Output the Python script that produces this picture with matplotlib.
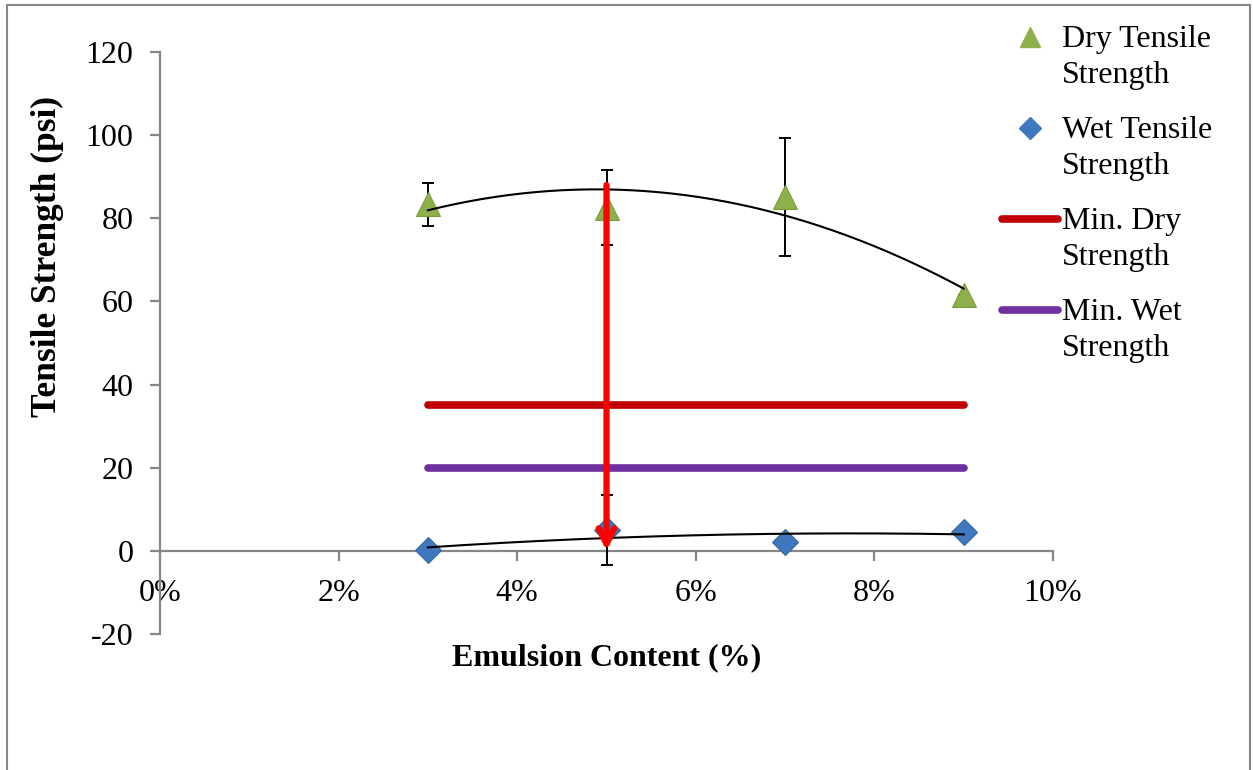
import numpy as np
import matplotlib
matplotlib.use("Agg")
import matplotlib.pyplot as plt
from matplotlib.lines import Line2D
from matplotlib.patches import Rectangle

# data (emulsion content in %)
emulsion = [3, 5, 7, 9]
dry_strength = [83.4, 82.5, 85.1, 61.6]
dry_err = [5.2, 9.0, 14.2, 0.0]
wet_strength = [0.2, 5.0, 2.2, 4.6]
wet_err = [0.0, 8.4, 0.0, 0.0]

min_dry = 35
min_wet = 20
min_span = [3, 9]

arrow_x = 5
arrow_from = 88
arrow_to = 0

x_ticks = [0, 2, 4, 6, 8, 10]
x_labels = ["0%", "2%", "4%", "6%", "8%", "10%"]
y_ticks = [-20, 0, 20, 40, 60, 80, 100, 120]

legend_labels = ['Dry Tensile\nStrength', 'Wet Tensile\nStrength',
                 'Min. Dry\nStrength', 'Min. Wet\nStrength']

plt.rcParams['font.family'] = ['Liberation Serif', 'DejaVu Serif']
plt.rcParams['axes.unicode_minus'] = False
FS = 23
GRAY = '#868686'
W, H = 1253, 770

fig = plt.figure(figsize=(W / 100, H / 100), dpi=100)
ax = fig.add_axes([160 / W, 1 - 634 / H, 893 / W, 582 / H])

# outer chart frame
fig.patches.append(Rectangle((7 / W, -0.1), 1243 / W, 1.1 - 5 / H,
                             transform=fig.transFigure, fill=False,
                             edgecolor=GRAY, lw=1.5))

# minimum strength lines
ax.plot(min_span, [min_dry, min_dry], color='#C00000', lw=5.5,
        solid_capstyle='round', zorder=2)
ax.plot(min_span, [min_wet, min_wet], color='#7030A0', lw=5.5,
        solid_capstyle='round', zorder=2)

# error bars behind the markers
ax.errorbar(emulsion, dry_strength, yerr=dry_err, fmt='none', ecolor='black',
            elinewidth=1.4, capsize=4.5, capthick=1.4, zorder=3)
ax.errorbar(emulsion, wet_strength, yerr=wet_err, fmt='none', ecolor='black',
            elinewidth=1.4, capsize=4.5, capthick=1.4, zorder=3)

ax.plot(emulsion, dry_strength, linestyle='none', marker='^', markersize=17,
        color='#8DB04A', markeredgecolor='#7A9D3C', markeredgewidth=0.8, zorder=4)
ax.plot(emulsion, wet_strength, linestyle='none', marker='D', markersize=13,
        color='#3F78BF', markeredgecolor='#36699F', markeredgewidth=0.8, zorder=4)

# 2nd order polynomial trendlines
xx = np.linspace(min(emulsion), max(emulsion), 200)
dry_fit = np.polyfit(emulsion, dry_strength, 2)
wet_fit = np.polyfit(emulsion, wet_strength, 2)
ax.plot(xx, np.polyval(dry_fit, xx), color='black', lw=1.5, zorder=5)
ax.plot(xx, np.polyval(wet_fit, xx), color='black', lw=1.5, zorder=5)

# red arrow at the chosen emulsion content
ax.annotate('', xy=(arrow_x, arrow_to), xytext=(arrow_x, arrow_from),
            arrowprops=dict(arrowstyle='->', color='#FF0000', lw=4.5,
                            mutation_scale=28, shrinkA=0, shrinkB=0),
            zorder=6)

ax.set_xlim(0, 10)
ax.set_ylim(-20, 120)
ax.set_xticks(x_ticks)
ax.set_xticklabels(x_labels)
ax.set_yticks(y_ticks)

for s in ['top', 'right']:
    ax.spines[s].set_visible(False)
ax.spines['bottom'].set_position(('data', 0))
for s in ['left', 'bottom']:
    ax.spines[s].set_color(GRAY)
    ax.spines[s].set_linewidth(1.6)
ax.tick_params(axis='both', direction='out', length=7, width=1.6,
               color=GRAY, labelsize=FS)
ax.tick_params(axis='x', pad=13)
ax.tick_params(axis='y', pad=12)

ax.set_xlabel('Emulsion Content (%)', fontsize=FS, fontweight='bold')
ax.xaxis.set_label_coords(0.5, -0.041)
ax.xaxis.label.set_verticalalignment('center')
ax.set_ylabel('Tensile Strength (psi)', fontsize=25.5, fontweight='bold')
ax.yaxis.set_label_coords(-0.126, 0.649)
ax.yaxis.label.set_verticalalignment('center')

# legend drawn by hand: the symbol sits on the first line of each label
legend_styles = [
    dict(linestyle='none', marker='^', markersize=15, color='#8DB04A'),
    dict(linestyle='none', marker='D', markersize=11, color='#3F78BF'),
    dict(color='#C00000', lw=5.5, solid_capstyle='round'),
    dict(color='#7030A0', lw=5.5, solid_capstyle='round'),
]
for i, (lab, style) in enumerate(zip(legend_labels, legend_styles)):
    y_line = 1 - (37 + 91 * i) / H
    if style.get('marker'):
        hx = [1030 / W]
        hy = [y_line]
    else:
        hx = [1002 / W, 1058 / W]
        hy = [y_line, y_line]
    fig.add_artist(Line2D(hx, hy, transform=fig.transFigure, **style))
    fig.text(1062 / W, y_line + 12 / H, lab, fontsize=FS, va='top',
             ha='left', linespacing=1.3)

fig.savefig('out.png', dpi=100)
